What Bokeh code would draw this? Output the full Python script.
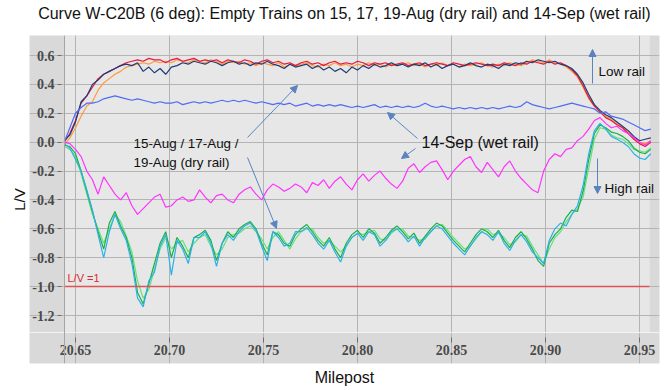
from bokeh.plotting import figure
from bokeh.models import (Range1d, FixedTicker, NumeralTickFormatter, BoxAnnotation,
                          Label, Arrow, NormalHead, Title)
from bokeh.embed import file_html
from bokeh.resources import INLINE
import numpy as np

# ---------------- data ----------------
milepost = np.round(20.644 + 0.003 * np.arange(105), 3)

aug15_low = [0.00, 0.06, 0.15, 0.27, 0.32, 0.38, 0.44, 0.47, 0.49, 0.51, 0.53, 0.55, 0.56,
             0.57, 0.56, 0.58, 0.57, 0.57, 0.55, 0.57, 0.58, 0.56, 0.57, 0.58, 0.56,
             0.57, 0.56, 0.57, 0.55, 0.57, 0.56, 0.55, 0.57, 0.56, 0.54, 0.56, 0.57,
             0.55, 0.56, 0.54, 0.55, 0.53, 0.55, 0.56, 0.54, 0.55, 0.53, 0.55, 0.56,
             0.54, 0.55, 0.54, 0.56, 0.55, 0.53, 0.55, 0.54, 0.55, 0.53, 0.54, 0.55,
             0.53, 0.54, 0.55, 0.53, 0.54, 0.55, 0.54, 0.53, 0.55, 0.54, 0.53, 0.54,
             0.55, 0.54, 0.53, 0.54, 0.53, 0.55, 0.54, 0.53, 0.55, 0.54, 0.56, 0.55,
             0.54, 0.56, 0.54, 0.55, 0.53, 0.50, 0.46, 0.39, 0.31, 0.25, 0.21, 0.17,
             0.15, 0.12, 0.10, 0.06, 0.02, -0.01, -0.03, 0.00]
aug17_low = [-0.02, 0.03, 0.10, 0.18, 0.25, 0.28, 0.36, 0.41, 0.44, 0.47, 0.49, 0.52, 0.53,
             0.54, 0.55, 0.54, 0.56, 0.55, 0.56, 0.55, 0.57, 0.56, 0.55, 0.57, 0.56,
             0.55, 0.57, 0.56, 0.54, 0.56, 0.55, 0.56, 0.54, 0.55, 0.53, 0.55, 0.54,
             0.53, 0.55, 0.52, 0.54, 0.53, 0.54, 0.55, 0.53, 0.52, 0.54, 0.53, 0.55,
             0.53, 0.54, 0.52, 0.54, 0.53, 0.55, 0.53, 0.54, 0.52, 0.54, 0.53, 0.54,
             0.55, 0.53, 0.54, 0.52, 0.54, 0.53, 0.55, 0.53, 0.54, 0.52, 0.54, 0.53,
             0.54, 0.55, 0.53, 0.52, 0.54, 0.53, 0.55, 0.54, 0.53, 0.55, 0.57, 0.56,
             0.55, 0.57, 0.55, 0.54, 0.52, 0.49, 0.45, 0.38, 0.30, 0.25, 0.21, 0.18,
             0.16, 0.13, 0.10, 0.07, 0.03, 0.00, -0.01, 0.01]
aug19_low = [0.01, 0.05, 0.14, 0.28, 0.32, 0.40, 0.43, 0.47, 0.49, 0.51, 0.53, 0.54, 0.53,
             0.55, 0.49, 0.52, 0.48, 0.51, 0.47, 0.52, 0.53, 0.55, 0.54, 0.56, 0.55,
             0.54, 0.56, 0.55, 0.53, 0.55, 0.56, 0.54, 0.55, 0.53, 0.55, 0.54, 0.56,
             0.54, 0.53, 0.51, 0.54, 0.52, 0.53, 0.54, 0.51, 0.53, 0.50, 0.52, 0.49,
             0.51, 0.48, 0.52, 0.50, 0.53, 0.51, 0.54, 0.52, 0.53, 0.55, 0.53, 0.54,
             0.52, 0.54, 0.53, 0.55, 0.52, 0.54, 0.51, 0.53, 0.54, 0.52, 0.53, 0.55,
             0.53, 0.52, 0.54, 0.53, 0.51, 0.54, 0.53, 0.55, 0.54, 0.56, 0.55, 0.57,
             0.56, 0.55, 0.56, 0.54, 0.53, 0.51, 0.47, 0.41, 0.33, 0.26, 0.22, 0.19,
             0.17, 0.14, 0.11, 0.08, 0.04, 0.01, 0.02, 0.03]
sep14_low = [0.00, 0.10, 0.20, 0.24, 0.27, 0.27, 0.28, 0.30, 0.31, 0.32, 0.31, 0.30, 0.29,
             0.30, 0.29, 0.28, 0.27, 0.28, 0.27, 0.27, 0.28, 0.26, 0.27, 0.28, 0.27,
             0.28, 0.27, 0.28, 0.29, 0.28, 0.29, 0.28, 0.29, 0.28, 0.27, 0.28, 0.27,
             0.26, 0.27, 0.26, 0.27, 0.25, 0.26, 0.27, 0.25, 0.26, 0.25, 0.26, 0.25,
             0.26, 0.25, 0.24, 0.25, 0.24, 0.25, 0.26, 0.24, 0.25, 0.24, 0.25, 0.24,
             0.25, 0.24, 0.25, 0.27, 0.25, 0.24, 0.25, 0.24, 0.23, 0.24, 0.23, 0.24,
             0.23, 0.24, 0.23, 0.24, 0.23, 0.24, 0.25, 0.24, 0.25, 0.28, 0.26, 0.25,
             0.24, 0.23, 0.24, 0.25, 0.26, 0.27, 0.26, 0.25, 0.24, 0.23, 0.20, 0.21,
             0.18, 0.17, 0.16, 0.14, 0.12, 0.10, 0.08, 0.09]
sep14_high = [0.00, -0.01, -0.05, -0.10, -0.20, -0.26, -0.36, -0.24, -0.30, -0.36, -0.40, -0.35, -0.44,
              -0.50, -0.46, -0.42, -0.38, -0.36, -0.45, -0.44, -0.40, -0.38, -0.41, -0.40, -0.33,
              -0.38, -0.42, -0.37, -0.36, -0.40, -0.42, -0.36, -0.33, -0.31, -0.36, -0.40, -0.33,
              -0.29, -0.31, -0.34, -0.32, -0.29, -0.31, -0.35, -0.28, -0.30, -0.26, -0.32, -0.27,
              -0.24, -0.29, -0.33, -0.26, -0.22, -0.27, -0.23, -0.20, -0.25, -0.29, -0.32, -0.27,
              -0.18, -0.15, -0.21, -0.17, -0.14, -0.13, -0.19, -0.26, -0.20, -0.16, -0.12, -0.10,
              -0.17, -0.21, -0.14, -0.19, -0.24, -0.17, -0.13, -0.20, -0.25, -0.29, -0.33, -0.35,
              -0.20, -0.12, -0.08, -0.10, -0.05, -0.04, 0.01, 0.04, 0.09, 0.15, 0.17, 0.13,
              0.10, 0.11, 0.08, 0.06, 0.03, 0.00, -0.02, 0.01]
aug15_high = [-0.02, -0.03, -0.08, -0.20, -0.34, -0.48, -0.62, -0.74, -0.56, -0.48, -0.58, -0.66, -0.80,
              -1.04, -1.12, -0.98, -0.84, -0.70, -0.62, -0.80, -0.66, -0.72, -0.80, -0.66, -0.64,
              -0.61, -0.68, -0.82, -0.70, -0.62, -0.66, -0.60, -0.57, -0.55, -0.60, -0.70, -0.78,
              -0.62, -0.64, -0.70, -0.72, -0.64, -0.60, -0.57, -0.62, -0.68, -0.72, -0.66, -0.74,
              -0.80, -0.70, -0.64, -0.61, -0.66, -0.60, -0.63, -0.70, -0.66, -0.61, -0.58, -0.62,
              -0.67, -0.63, -0.70, -0.65, -0.60, -0.56, -0.58, -0.63, -0.68, -0.72, -0.76, -0.70,
              -0.64, -0.60, -0.62, -0.66, -0.61, -0.68, -0.73, -0.66, -0.62, -0.67, -0.74, -0.82,
              -0.86, -0.70, -0.64, -0.60, -0.52, -0.47, -0.48, -0.34, -0.12, 0.06, 0.12, 0.10,
              0.07, 0.06, 0.04, 0.01, -0.04, -0.07, -0.08, -0.05]
aug17_high = [-0.03, -0.05, -0.10, -0.22, -0.36, -0.50, -0.60, -0.70, -0.60, -0.50, -0.55, -0.65, -0.76,
              -0.96, -1.08, -1.02, -0.88, -0.74, -0.66, -0.74, -0.70, -0.68, -0.76, -0.70, -0.66,
              -0.64, -0.72, -0.78, -0.74, -0.66, -0.64, -0.63, -0.60, -0.58, -0.62, -0.67, -0.74,
              -0.66, -0.62, -0.68, -0.74, -0.67, -0.62, -0.60, -0.60, -0.66, -0.70, -0.68, -0.72,
              -0.76, -0.72, -0.66, -0.63, -0.64, -0.62, -0.61, -0.67, -0.68, -0.63, -0.60, -0.60,
              -0.65, -0.66, -0.68, -0.67, -0.62, -0.58, -0.57, -0.61, -0.66, -0.70, -0.74, -0.72,
              -0.67, -0.62, -0.60, -0.64, -0.63, -0.66, -0.71, -0.69, -0.64, -0.65, -0.72, -0.78,
              -0.84, -0.74, -0.66, -0.62, -0.55, -0.50, -0.46, -0.38, -0.18, 0.02, 0.10, 0.09,
              0.05, 0.03, 0.02, -0.01, -0.05, -0.06, -0.07, -0.04]
aug19_high = [-0.01, -0.04, -0.12, -0.20, -0.33, -0.47, -0.64, -0.80, -0.62, -0.50, -0.60, -0.68, -0.84,
              -1.08, -1.14, -0.96, -0.90, -0.72, -0.64, -0.92, -0.68, -0.74, -0.84, -0.66, -0.66,
              -0.62, -0.70, -0.86, -0.70, -0.64, -0.68, -0.62, -0.58, -0.56, -0.61, -0.72, -0.82,
              -0.62, -0.66, -0.72, -0.70, -0.62, -0.62, -0.59, -0.64, -0.70, -0.74, -0.68, -0.76,
              -0.83, -0.72, -0.66, -0.63, -0.68, -0.62, -0.64, -0.72, -0.68, -0.62, -0.60, -0.64,
              -0.69, -0.65, -0.72, -0.66, -0.62, -0.58, -0.60, -0.65, -0.70, -0.74, -0.78, -0.72,
              -0.66, -0.62, -0.64, -0.68, -0.62, -0.70, -0.75, -0.68, -0.64, -0.69, -0.76, -0.80,
              -0.84, -0.68, -0.60, -0.56, -0.58, -0.50, -0.44, -0.30, -0.08, 0.08, 0.13, 0.09,
              0.04, 0.02, 0.00, -0.03, -0.08, -0.11, -0.12, -0.08]

x_ticks = [20.65, 20.70, 20.75, 20.80, 20.85, 20.90, 20.95]
y_ticks = [-1.2, -1.0, -0.8, -0.6, -0.4, -0.2, 0.0, 0.2, 0.4, 0.6]
lv_limit = -1.0

# ---------------- geometry ----------------
FL, FT, FW, FH = 29, 35, 630, 328          # frame (grey panel) in page pixels
XPP = 0.05 / 94.0                          # milepost per pixel
YPP = 1.8 / 260.0                          # L/V per pixel
X0 = 20.65 - (75 - FL) * XPP
X1 = X0 + FW * XPP
Y1 = 0.6 + (55 - FT) * YPP
Y0 = Y1 - FH * YPP


def px(xp):
    return X0 + (xp - FL) * XPP


def py(yp):
    return Y1 - (yp - FT) * YPP


PL, PR, PT, PB = px(64), px(649), Y1, py(332)   # light plot area

p = figure(width=666, height=390, output_backend="svg", toolbar_location=None,
           title=None, x_range=Range1d(X0, X1), y_range=Range1d(Y0, Y1),
           min_border_left=FL, min_border_right=666 - FL - FW,
           min_border_top=FT, min_border_bottom=390 - FT - FH)
p.border_fill_color = "white"
p.background_fill_color = "#d9d9d9"
p.outline_line_color = None

p.add_layout(BoxAnnotation(left=PL, right=PR, top=PT, bottom=PB, fill_color="#e7e7e7",
                           fill_alpha=1, line_color="#f3f3f3", line_width=1, level="image"))

for ax, ticks, fmt, loc in ((p.xaxis, x_ticks, "0.00", PB), (p.yaxis, y_ticks, "0.0", PL)):
    ax.ticker = FixedTicker(ticks=ticks)
    ax.formatter = NumeralTickFormatter(format=fmt)
    ax.fixed_location = loc
    ax.minor_tick_line_color = None
    ax.major_tick_line_color = "#6e6e6e"
    ax.major_label_text_font = "Liberation Serif"
    ax.major_label_text_font_style = "bold"
    ax.major_label_text_font_size = "14px"
    ax.major_label_text_color = "#4a4a4a"
p.xaxis.axis_line_color = "#f3f3f3"
p.yaxis.axis_line_color = "#a5a5a5"
p.xaxis.major_tick_in = -5
p.xaxis.major_tick_out = 10
p.xaxis.major_label_standoff = 2
p.yaxis.major_tick_in = -3
p.yaxis.major_tick_out = 7
p.yaxis.major_label_standoff = 3

p.xgrid.ticker = FixedTicker(ticks=x_ticks)
p.ygrid.ticker = FixedTicker(ticks=y_ticks)
p.xgrid.bounds = (PB, PT)
p.ygrid.bounds = (PL, PR)
p.grid.grid_line_color = "#b4b4b4"
p.grid.grid_line_width = 1

# spacer between the grey panel and the title (added first: nearest the panel)
p.add_layout(Title(text=" ", text_font_size="1px", standoff=10), "above")
p.add_layout(Title(text="Curve W-C20B (6 deg): Empty Trains on 15, 17, 19-Aug (dry rail) and 14-Sep (wet rail)",
                   align="center", text_font="Liberation Sans", text_font_size="16px",
                   text_font_style="normal", text_color="#111111", standoff=2), "above")
p.add_layout(Title(text="L/V", align="center", text_font="Liberation Sans", text_font_size="15px",
                   text_font_style="normal", text_color="#111111", standoff=4), "left")
p.add_layout(Title(text="Milepost", align="center", text_font="Liberation Sans", text_font_size="16px",
                   text_font_style="normal", text_color="#111111", standoff=6), "below")

# series
p.line(milepost, aug17_low, line_color="#ff9a3c", line_width=1.2)
p.line(milepost, aug15_low, line_color="#e8173e", line_width=1.2)
p.line(milepost, aug19_low, line_color="#1f3c78", line_width=1.2)
p.line(milepost, sep14_low, line_color="#4f6cf5", line_width=1.2)
p.line(milepost, aug17_high, line_color="#66e07e", line_width=1.2)
p.line(milepost, aug15_high, line_color="#1fae46", line_width=1.2)
p.line(milepost, aug19_high, line_color="#2ab2e8", line_width=1.2)
p.line(milepost, sep14_high, line_color="#ff33ff", line_width=1.2)

p.line([PL, PR], [lv_limit, lv_limit], line_color="#e05252", line_width=1.5)
p.add_layout(Label(x=px(67), y=py(277), text="L/V =1", text_color="#e02828",
                   text_font="Liberation Sans", text_font_size="11px", text_baseline="middle"))


def txt(x, y, s, size="13.5px"):
    p.add_layout(Label(x=px(x), y=py(y), text=s, text_font="Liberation Sans",
                       text_font_size=size, text_align="left", text_baseline="middle",
                       text_color="#111111"))


txt(133, 143, "15-Aug / 17-Aug /", "13.4px")
txt(133, 162, "19-Aug (dry rail)", "13.4px")
txt(421, 142, "14-Sep (wet rail)", "16px")
txt(598, 71, "Low rail")
txt(604, 188, "High rail")

acol = "#5a84c0"


def arrow(x0, y0, x1, y1):
    p.add_layout(Arrow(x_start=px(x0), y_start=py(y0), x_end=px(x1), y_end=py(y1),
                       line_color=acol, line_width=1,
                       end=NormalHead(size=7, fill_color=acol, line_color=acol)))


arrow(247, 137, 297, 85)
arrow(247, 157, 276, 228)
arrow(417, 138, 387, 112)
arrow(415, 148, 401, 158)
arrow(592, 83, 592, 49)
arrow(597, 158, 597, 193)

open("out.html", "w").write(file_html(p, INLINE))
